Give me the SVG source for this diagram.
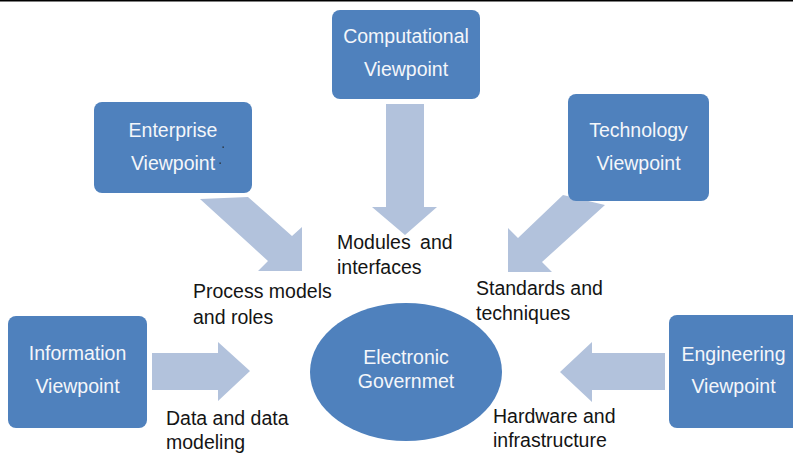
<svg xmlns="http://www.w3.org/2000/svg" width="793" height="456" viewBox="0 0 793 456">
  <style>
    .box { fill: #4F81BD; }
    .arrow { fill: #B2C2DC; }
    .bt { font-family: "Liberation Sans", Arial, sans-serif; font-size: 19.5px; fill: #F4F6FA; text-anchor: middle; }
    .lbl { font-family: "Liberation Sans", Arial, sans-serif; font-size: 19.5px; fill: #141414; }
  </style>
  <rect x="0" y="0" width="793" height="456" fill="#FFFFFF"/>
  <rect x="0" y="0" width="793" height="1.5" fill="#000000"/>

  <g id="connectors">
    <polygon class="arrow" points="386,104 424,104 424,207 437,207 405,235 372,207 386,207"/>
    <polygon class="arrow" points="200,199 248,197 292,236 302,227 302,271 258,271 268,261"/>
    <polygon class="arrow" points="563,195 605,205 542,262 552,272 508,272 508,228 518,238"/>
    <polygon class="arrow" points="152,353 218,353 218,342 250,371 218,401 218,390 152,390"/>
    <polygon class="arrow" points="665,353 592,353 592,342 560,372 592,402 592,390 665,390"/>
  </g>

  <g id="computational">
    <rect class="box" x="332" y="10" width="148" height="89" rx="8"/>
    <text class="bt" x="406" y="43">Computational</text>
    <text class="bt" x="406" y="76">Viewpoint</text>
  </g>

  <g id="enterprise">
    <rect class="box" x="94" y="102" width="158" height="91" rx="8"/>
    <text class="bt" x="173" y="137">Enterprise</text>
    <text class="bt" x="173" y="170">Viewpoint</text>
    <rect x="222.5" y="146.5" width="1.3" height="1.3" fill="#222"/>
    <rect x="219.5" y="162.5" width="1.3" height="1.3" fill="#222"/>
  </g>

  <g id="technology">
    <rect class="box" x="568" y="94" width="141" height="107" rx="8"/>
    <text class="bt" x="638.5" y="137">Technology</text>
    <text class="bt" x="638.5" y="170">Viewpoint</text>
  </g>

  <g id="information">
    <rect class="box" x="8" y="316" width="139" height="112" rx="8"/>
    <text class="bt" x="77.5" y="360">Information</text>
    <text class="bt" x="77.5" y="393">Viewpoint</text>
  </g>

  <g id="engineering">
    <rect class="box" x="669" y="315" width="140" height="113" rx="8"/>
    <text class="bt" x="733.5" y="361">Engineering</text>
    <text class="bt" x="733.5" y="393">Viewpoint</text>
  </g>

  <g id="egov">
    <ellipse class="box" cx="406" cy="372" rx="96" ry="69"/>
    <text class="bt" x="406" y="364">Electronic</text>
    <text class="bt" x="406" y="388">Governmet</text>
  </g>

  <g id="labels">
    <text class="lbl" x="337" y="249" word-spacing="4">Modules and</text>
    <text class="lbl" x="337" y="274">interfaces</text>
    <text class="lbl" x="193" y="298">Process models</text>
    <text class="lbl" x="193" y="324">and roles</text>
    <text class="lbl" x="476" y="295">Standards and</text>
    <text class="lbl" x="476" y="320">techniques</text>
    <text class="lbl" x="166" y="425">Data and data</text>
    <text class="lbl" x="166" y="449">modeling</text>
    <text class="lbl" x="493" y="423">Hardware and</text>
    <text class="lbl" x="493" y="447">infrastructure</text>
  </g>
</svg>
